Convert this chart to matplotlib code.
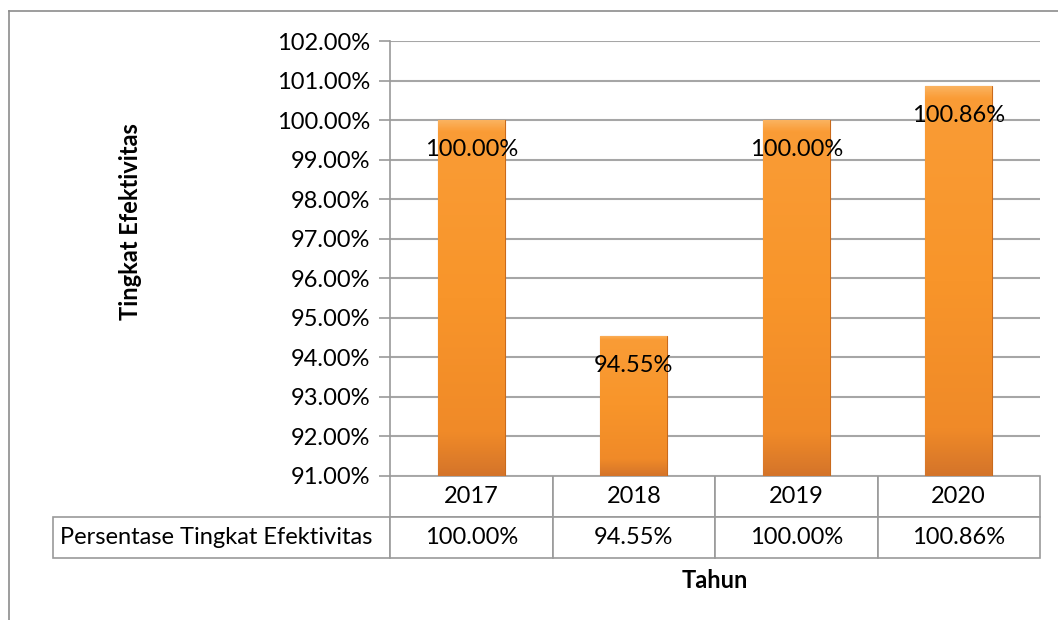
import numpy as np
import matplotlib.pyplot as plt
from matplotlib.lines import Line2D
from matplotlib.colors import LinearSegmentedColormap

# 데이터
years = ["2017", "2018", "2019", "2020"]
values = [100.00, 94.55, 100.00, 100.86]
row_label = "Persentase Tingkat Efektivitas"
y_ticks = [91, 92, 93, 94, 95, 96, 97, 98, 99, 100, 101, 102]

plt.rcParams["font.family"] = ["Lato", "DejaVu Sans"]
W, H = 1058, 620
fig = plt.figure(figsize=(W / 100, H / 100), dpi=100)

# 플롯 영역 (픽셀 기준 위치)
left, right, top, bottom = 390, 1040, 41, 476
ax = fig.add_axes([left / W, 1 - bottom / H, (right - left) / W, (bottom - top) / H])

x = np.arange(len(years))
bars = ax.bar(x, values, width=0.41, color="#F7941E",
              edgecolor="#C96A1C", linewidth=0.8, zorder=3)

# 막대 그라데이션 (아래쪽만 어둡게)
grad = np.linspace(0, 1, 256).reshape(-1, 1)
cmap = LinearSegmentedColormap.from_list(
    "bar", [(0, "#D4742A"), (0.12, "#F08A28"), (0.5, "#F8952A"), (0.97, "#FA9C36"), (1, "#FBB25E")])
for b in bars:
    bx, bw, bh = b.get_x(), b.get_width(), b.get_height()
    im = ax.imshow(grad, cmap=cmap, aspect="auto", origin="lower",
                   extent=(bx, bx + bw, 91, bh), zorder=3.5)
    im.set_clip_path(b)

ax.set_xlim(-0.5, len(years) - 0.5)
ax.set_ylim(91, 102)
ax.set_yticks(y_ticks)
ax.set_yticklabels([f"{v:.2f}%" for v in y_ticks], fontsize=17)
ax.set_xticks([])
ax.tick_params(axis="y", length=8, width=1.2, color="#9A9A9A", pad=6)
ax.grid(axis="y", color="#A6A6A6", linewidth=1.5, zorder=0)
for s in ["top", "right", "bottom"]:
    ax.spines[s].set_visible(False)
ax.spines["left"].set_color("#9A9A9A")
ax.spines["left"].set_linewidth(1.2)

# 데이터 레이블
for xi, v in zip(x, values):
    ax.text(xi, v - 0.75, f"{v:.2f}%", ha="center", va="center", fontsize=17, zorder=5)

# 데이터 표
tab_left = 53
tab_bottom = 558
aw, ah = right - left, bottom - top
cells = [[""] + years, [row_label] + [f"{v:.2f}%" for v in values]]
first_w = (left - tab_left) / (right - tab_left)
col_w = [first_w] + [(1 - first_w) / len(years)] * len(years)
tbl = ax.table(cellText=cells, colWidths=col_w, cellLoc="center",
               bbox=[(tab_left - left) / aw, (bottom - tab_bottom) / ah,
                     (right - tab_left) / aw, (tab_bottom - bottom) / ah])
tbl.auto_set_font_size(False)
for (r, c), cell in tbl.get_celld().items():
    cell.set_edgecolor("#9A9A9A")
    cell.set_linewidth(1.2)
    cell.get_text().set_fontsize(17)
    if r == 0 and c == 0:
        cell.visible_edges = ""
    if r == 1 and c == 0:
        cell.get_text().set_ha("left")
        cell.PAD = 0.02

# 축 제목
fig.text(130 / W, 1 - 222 / H, "Tingkat Efektivitas", rotation=90, ha="center",
         va="center", fontsize=17, fontweight="bold")
fig.text(715 / W, 1 - 581 / H, "Tahun", ha="center", va="center",
         fontsize=17, fontweight="bold")

# 외곽 테두리
fig.add_artist(Line2D([9 / W, 1], [1 - 11 / H, 1 - 11 / H], color="#8C8C8C", linewidth=1.2))
fig.add_artist(Line2D([9 / W, 9 / W], [1 - 11 / H, 0], color="#8C8C8C", linewidth=1.2))

fig.savefig("out.png", dpi=100)
